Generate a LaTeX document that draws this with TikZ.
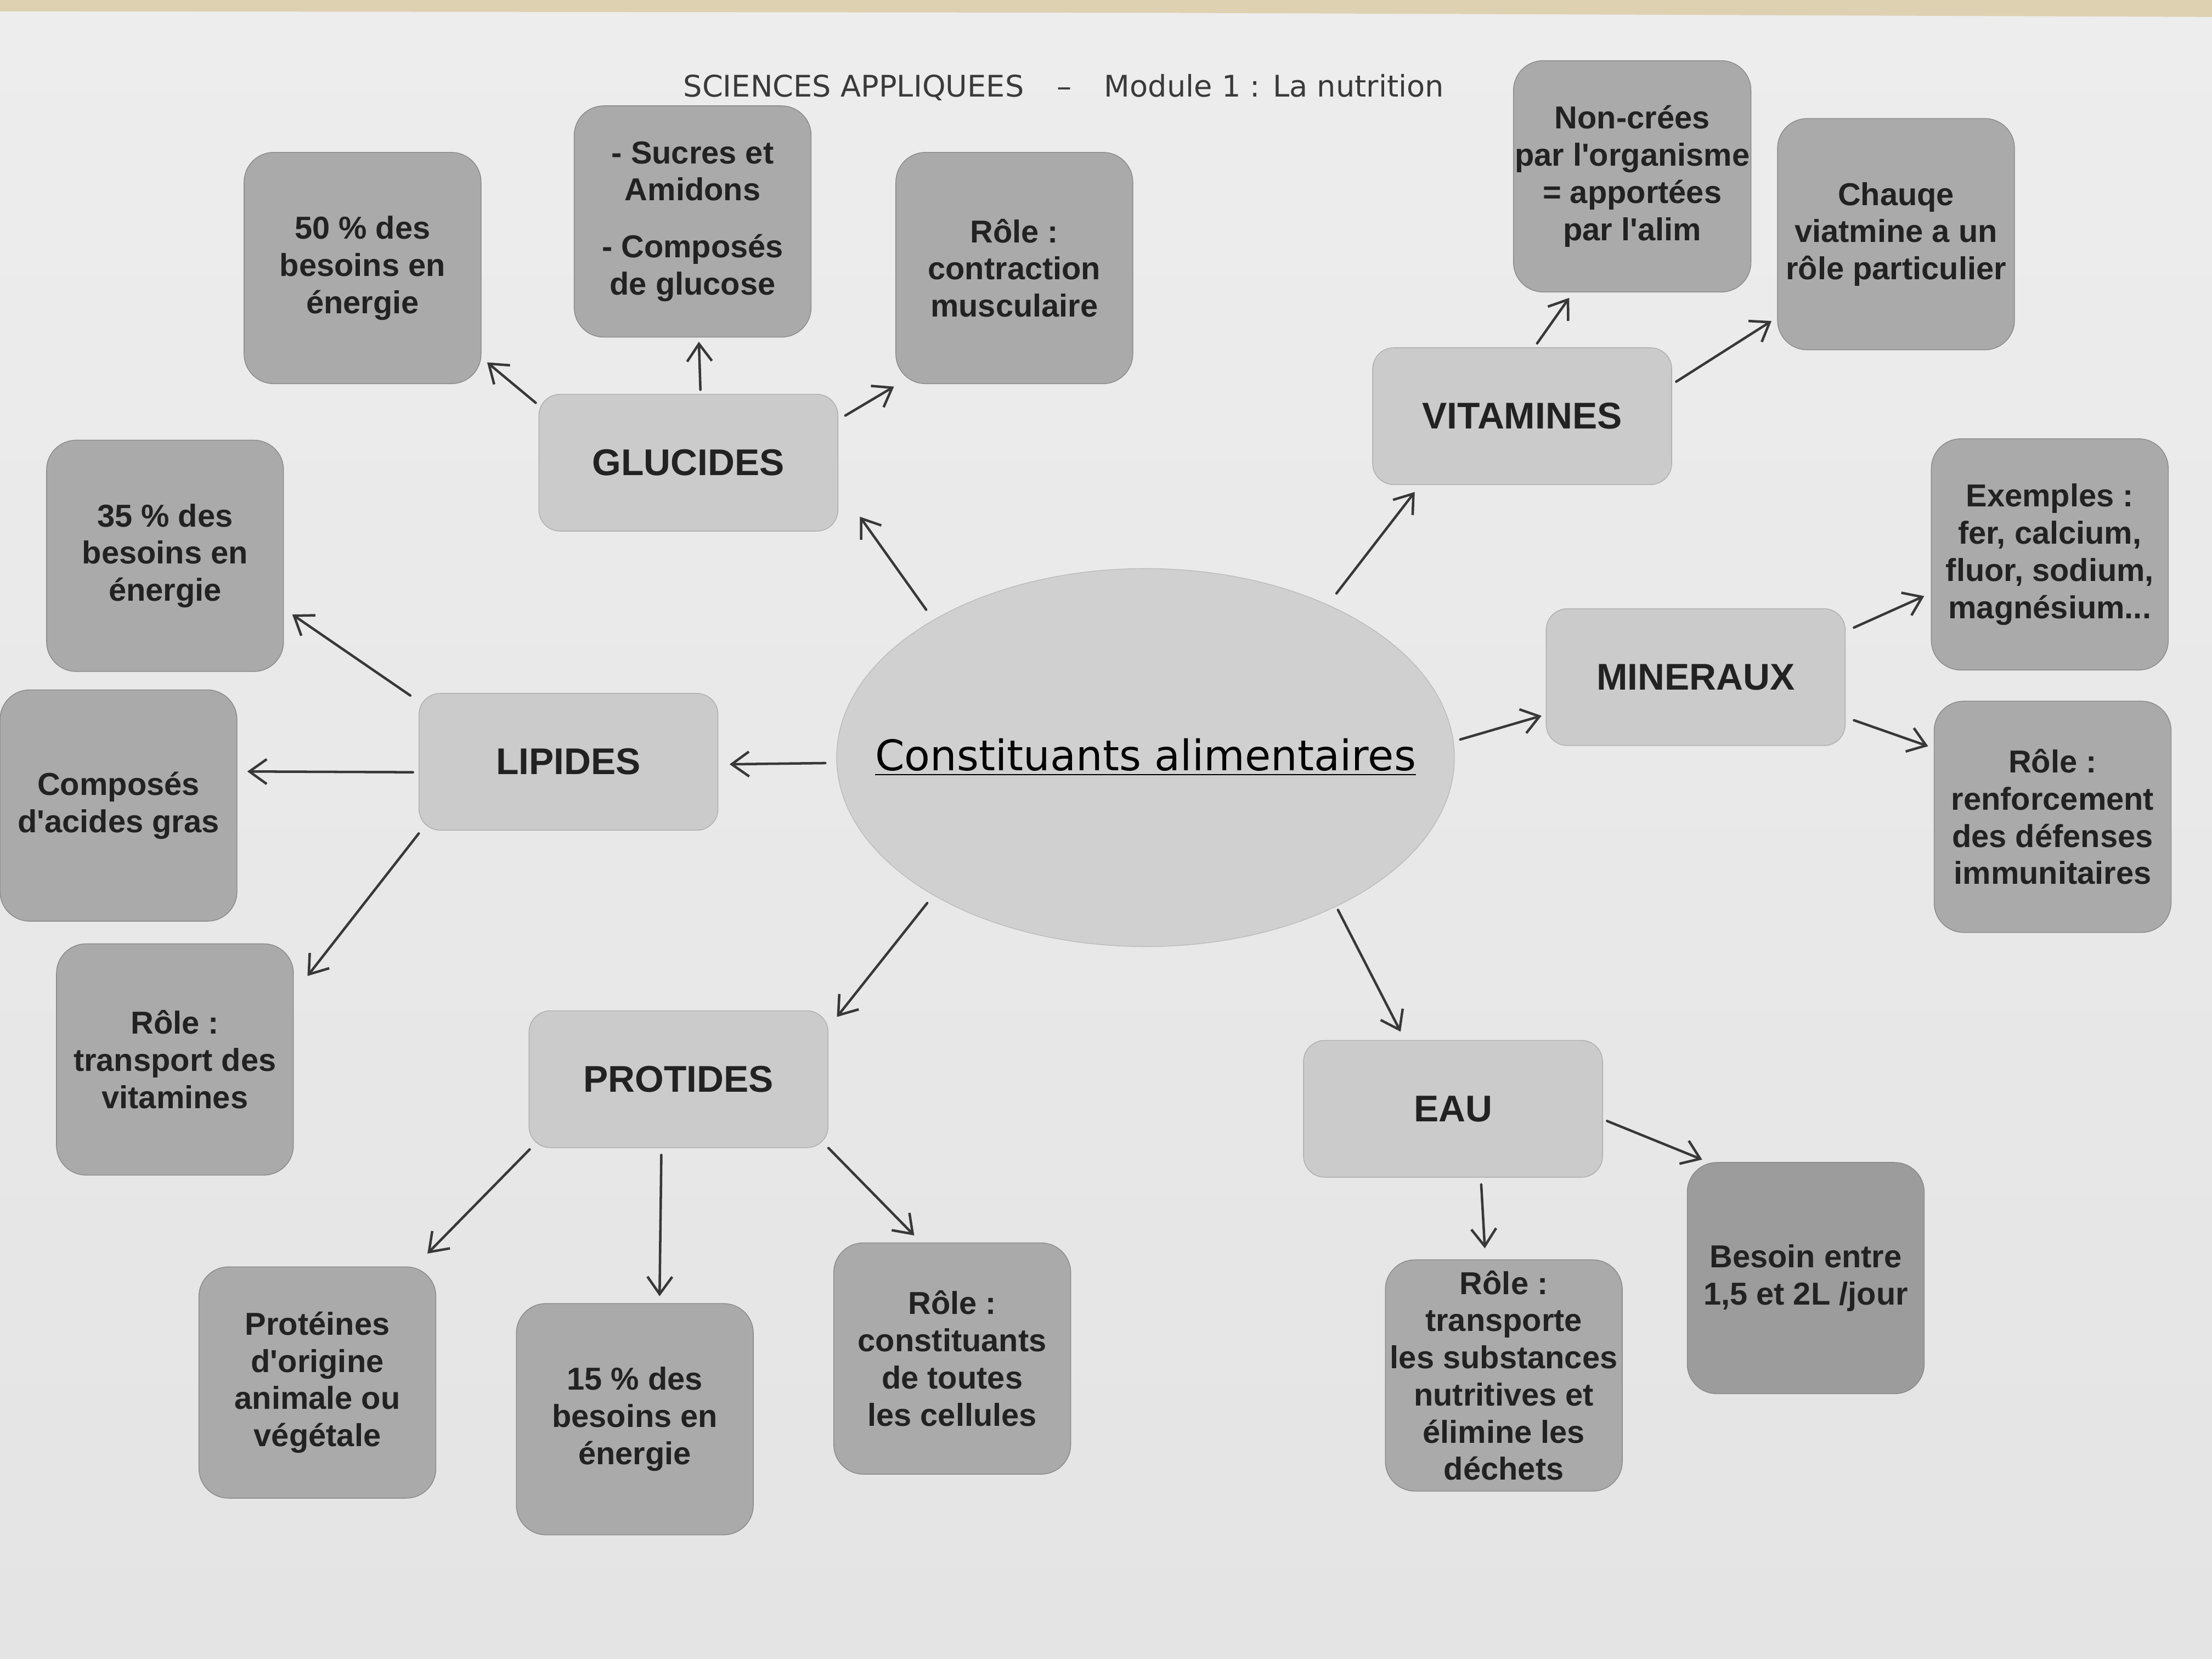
\documentclass[tikz,border=0pt]{standalone}
\usepackage{fontspec}
\setmainfont{Liberation Sans}
\newfontfamily\titlefont{DejaVu Sans}
\usetikzlibrary{shapes.geometric,arrows.meta}

\definecolor{paper}{RGB}{237,237,237}
\definecolor{paperlow}{RGB}{228,228,228}
\definecolor{paperedge}{RGB}{222,209,178}
\definecolor{maingray}{RGB}{203,203,203}
\definecolor{leafgray}{RGB}{170,170,170}
\definecolor{darkleaf}{RGB}{156,156,156}
\definecolor{ellgray}{RGB}{208,208,208}
\definecolor{ink}{RGB}{34,34,34}
\definecolor{titlegray}{RGB}{58,58,58}

\begin{document}
\begin{tikzpicture}[x=0.02cm, y=-0.02cm,
        main/.style={rectangle, rounded corners=0.3cm, fill=maingray, draw=maingray!85!black, line width=0.3pt,
                minimum width=4.24cm, minimum height=1.94cm, inner sep=0.5pt, text=ink,
                font=\bfseries\fontsize{15}{18}\selectfont},
        leaf/.style={rectangle, rounded corners=0.42cm, fill=leafgray, draw=leafgray!80!black, line width=0.3pt,
                minimum width=3.36cm, minimum height=3.28cm, inner sep=0.5pt, align=center, text=ink,
                font=\bfseries\fontsize{12.8}{15}\selectfont},
        centre/.style={ellipse, fill=ellgray, draw=ellgray!90!black, line width=0.3pt,
                minimum width=8.76cm, minimum height=5.36cm, inner sep=0pt},
        centretext/.style={text=black, font=\titlefont\fontsize{17}{20}\selectfont},
        arr/.style={-{Straight Barb[length=7pt,width=10pt]}, line width=1pt, draw=ink!90, line cap=round}]
                \useasboundingbox (0, 0) rectangle (1568, 1176);
                \shade[top color=paper, bottom color=paperlow] (0, 0) rectangle (1568, 1176);
                \fill[paperedge] (0, 0) -- (1568, 0) -- (1568, 12) -- (800, 9) -- (0, 8) -- cycle;

                \node[font=\titlefont\fontsize{12}{14}\selectfont, text=titlegray] (title) at (754, 62)
                        {SCIENCES APPLIQUEES\hspace{1.1em}–\hspace{1.1em}Module 1 : La nutrition};

                % centre
                \node[centre] (ca) at (812, 537) {};
                \node[centretext] (catext) at (ca.center) {\underline{Constituants alimentaires}};

                % glucides
                \node[main] (glu) at (488, 328) {GLUCIDES};
                \node[leaf] (glu50) at (257, 190) {50 \% des\\besoins en\\énergie};
                \node[leaf] (gluform) at (491, 157) {- Sucres et\\Amidons\\[8pt]- Composés\\de glucose};
                \node[leaf] (glurole) at (719, 190) {Rôle :\\contraction\\musculaire};

                % lipides
                \node[main] (lip) at (403, 540) {LIPIDES};
                \node[leaf] (lip35) at (117, 394) {35 \% des\\besoins en\\énergie};
                \node[leaf] (lipform) at (84, 571) {Composés\\d\textquotesingle acides gras};
                \node[leaf] (liprole) at (124, 751) {Rôle :\\transport des\\vitamines};

                % protides
                \node[main] (pro) at (481, 765) {PROTIDES};
                \node[leaf] (proorig) at (225, 980) {Protéines\\d\textquotesingle origine\\animale ou\\végétale};
                \node[leaf] (pro15) at (450, 1006) {15 \% des\\besoins en\\énergie};
                \node[leaf] (prorole) at (675, 963) {Rôle :\\constituants\\de toutes\\les cellules};

                % vitamines
                \node[main] (vit) at (1079, 295) {VITAMINES};
                \node[leaf] (vitsrc) at (1157, 125) {Non-crées\\par l\textquotesingle organisme\\= apportées\\par l\textquotesingle alim};
                \node[leaf] (vitrole) at (1344, 166) {Chauqe\\viatmine a un\\rôle particulier};

                % mineraux
                \node[main] (min) at (1202, 480) {MINERAUX};
                \node[leaf] (minex) at (1453, 393) {Exemples :\\fer, calcium,\\fluor, sodium,\\magnésium...};
                \node[leaf] (minrole) at (1455, 579) {Rôle :\\renforcement\\des défenses\\immunitaires};

                % eau
                \node[main] (eau) at (1030, 786) {EAU};
                \node[leaf] (eaurole) at (1066, 975) {Rôle :\\transporte\\les substances\\nutritives et\\élimine les\\déchets};
                \node[leaf, fill=darkleaf] (eaubes) at (1280, 906) {Besoin entre\\1,5 et 2L /jour};

                % arrows
                \foreach \from/\to/\ss/\se in {ca.147/glu.-9/5pt/15pt, ca.181/lip.-1/4.5pt/4.5pt,
                                ca.213/pro.19.5/4pt/5.5pt, ca.40/vit.214/5.7pt/3.6pt,
                                ca.3/min.194/2.8pt/1.8pt, ca.-38/eau.125/1.5pt/3.8pt,
                                glu.159/glu50.-37/1.5pt/3pt, glu.80.5/gluform.-87.6/1.7pt/1.7pt,
                                glu.16.6/glurole.225.4/3.3pt/2pt,
                                lip.158/lip35.-24/4.1pt/4.1pt, lip.184.6/lipform.16.6/2.3pt/4pt,
                                lip.205.7/liprole.29/1.5pt/9pt,
                                pro.205.8/proorig.50/0.8pt/7.3pt, pro.256.7/pro15.78.5/2.8pt/2.8pt,
                                pro.south east/prorole.105.5/0pt/4pt,
                                vit.80/vitsrc.243/2pt/2.7pt, vit.12.5/vitrole.215.7/2pt/2.7pt,
                                min.17.5/minex.198.6/3.7pt/3pt, min.-15.2/minrole.150.7/3.6pt/2.4pt,
                                eau.-68.9/eaurole.99.3/2.8pt/4.5pt, eau.-4.5/eaubes.130.7/1.8pt/2.7pt} {
                        \draw[arr, shorten <=\ss, shorten >=\se] (\from) -- (\to);
                    }
            \end{tikzpicture}
\end{document}
